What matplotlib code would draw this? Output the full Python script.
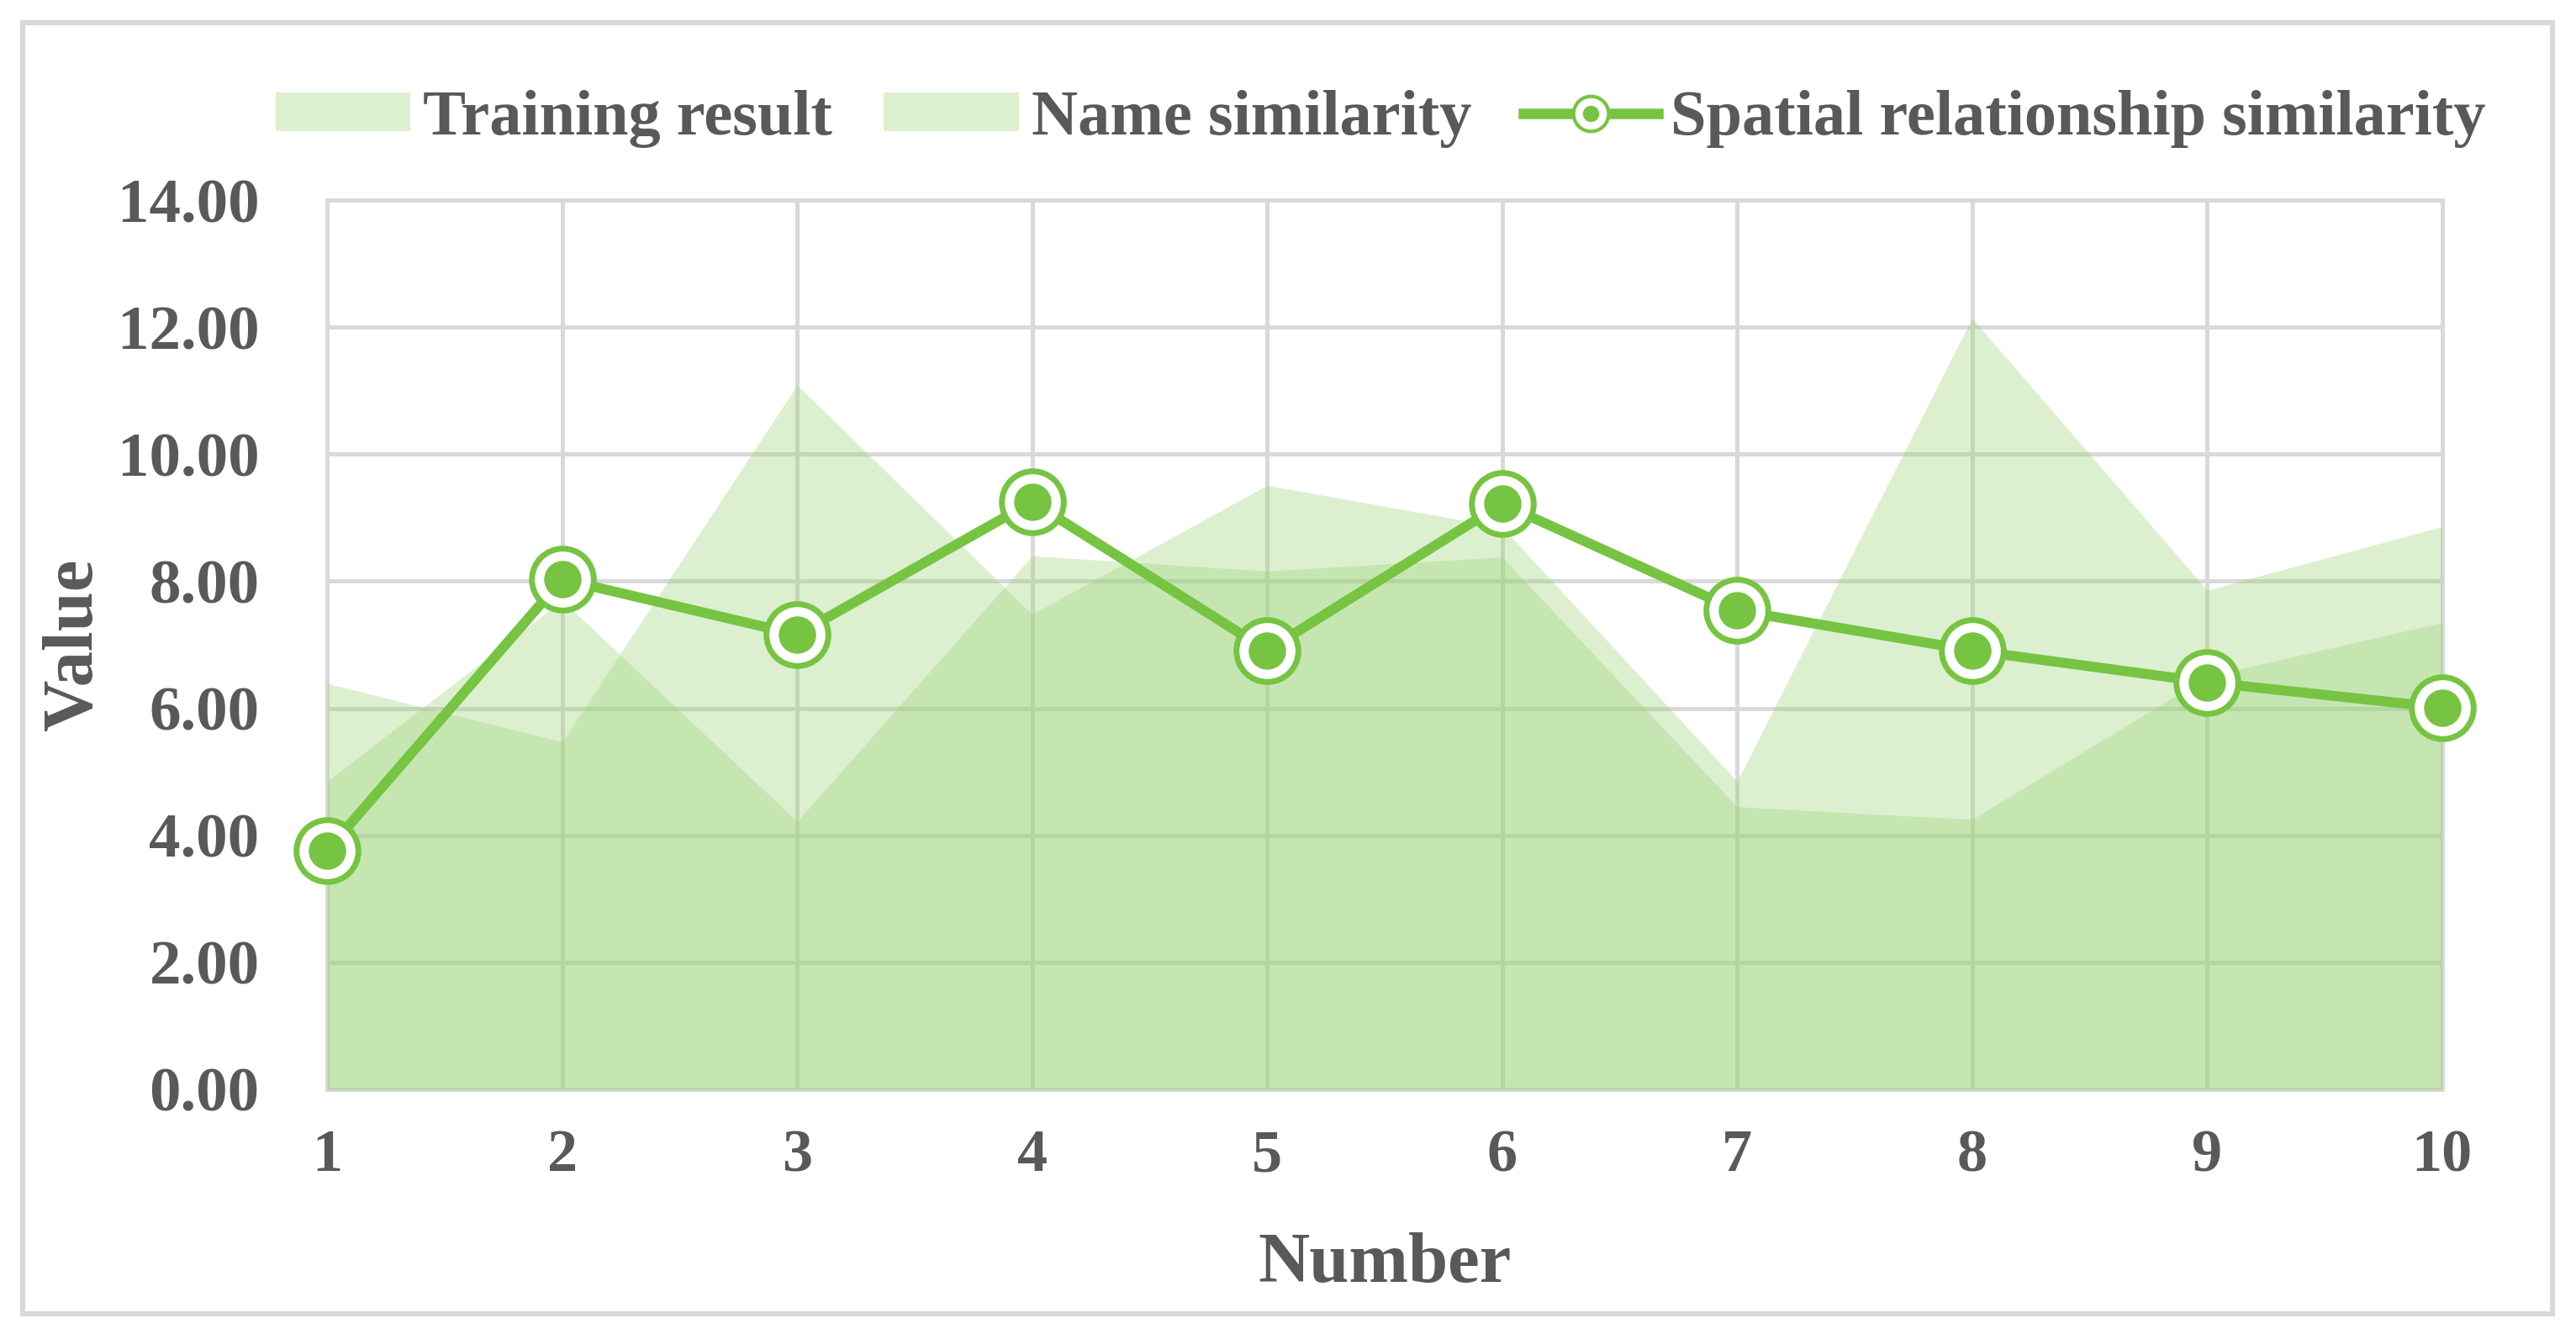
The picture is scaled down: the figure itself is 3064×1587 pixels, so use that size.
import numpy as np
import matplotlib
matplotlib.use("Agg")
import matplotlib.pyplot as plt
from matplotlib.patches import Patch, Rectangle
from matplotlib.lines import Line2D

## Datos
numero = [1, 2, 3, 4, 5, 6, 7, 8, 9, 10]
training = [6.39, 5.47, 11.09, 7.48, 9.51, 8.85, 4.85, 12.14, 7.86, 8.86]
name_sim = [4.85, 7.70, 4.22, 8.40, 8.16, 8.38, 4.45, 4.25, 6.50, 7.35]
spatial = [3.76, 8.03, 7.16, 9.25, 6.91, 9.22, 7.54, 6.91, 6.41, 6.01]
yticks = [0, 2, 4, 6, 8, 10, 12, 14]

verde = '#76C442'
area = '#9BD476'
gris = '#D9D9D9'
texto = '#595959'

plt.rcParams['font.family'] = ['Liberation Serif', 'DejaVu Serif']
plt.rcParams['font.weight'] = 'bold'

fig = plt.figure(figsize=(15.32, 7.935), dpi=200)
ax = fig.add_axes([0.127, 0.1834, 0.821, 0.6666])

##Areas
ax.fill_between(numero, training, 0, color=area, alpha=0.34, linewidth=0, zorder=2)
ax.fill_between(numero, name_sim, 0, color=area, alpha=0.34, linewidth=0, zorder=2)

##Linea con marcadores
ax.plot(numero, spatial, color=verde, linewidth=4.3, zorder=3, solid_capstyle='round')
ax.plot(numero, spatial, linestyle='none', marker='o', markersize=26.5,
        markerfacecolor='white', markeredgecolor=verde, markeredgewidth=2.5,
        zorder=4, clip_on=False)
ax.plot(numero, spatial, linestyle='none', marker='o', markersize=16,
        markerfacecolor=verde, markeredgewidth=0, zorder=5, clip_on=False)

ax.set_xlim(1, 10)
ax.set_ylim(0, 14)
ax.set_xticks(numero)
ax.set_yticks(yticks)
ax.set_yticklabels(['%.2f' % v for v in yticks])
ax.grid(True, color=gris, linewidth=1.8)
ax.set_axisbelow(True)
for s in ax.spines.values():
    s.set_color(gris)
    s.set_linewidth(1.8)
    s.set_zorder(1)
ax.tick_params(length=0, labelsize=26, labelcolor=texto)
ax.tick_params(axis='y', labelsize=27, pad=29)
ax.tick_params(axis='x', pad=17)

fig.text(0.029, 0.5166, 'Value', rotation=90, ha='center', va='center',
         fontsize=30.5, color=texto, fontweight='bold')
fig.text(0.5375, 0.052, 'Number', ha='center', va='center',
         fontsize=30.5, color=texto, fontweight='bold')

##Leyenda
h1 = Patch(facecolor='#DDF0D0', edgecolor='none')
h2 = Patch(facecolor='#DDF0D0', edgecolor='none')
l_line = Line2D([], [], color=verde, linewidth=4.5)
l_out = Line2D([], [], linestyle='none', marker='o', markersize=15,
               markerfacecolor='white', markeredgecolor=verde, markeredgewidth=1.5)
l_in = Line2D([], [], linestyle='none', marker='o', markersize=7,
              markerfacecolor=verde, markeredgewidth=0)
leg = fig.legend([h1, h2, (l_line, l_out, l_in)],
                 ['Training result', 'Name similarity', 'Spatial relationship similarity'],
                 loc='center', bbox_to_anchor=(0.536, 0.911), ncol=3, frameon=False,
                 fontsize=27.5, handlelength=2.1, handleheight=0.55,
                 handletextpad=0.2, columnspacing=0.8)
for t in leg.get_texts():
    t.set_color(texto)

##Borde exterior
fig.patches.append(Rectangle((27 / 3064, 24 / 1587), 3009 / 3064, 1536 / 1587,
                             transform=fig.transFigure, fill=False,
                             edgecolor=gris, linewidth=2.2))

plt.savefig('out.png', dpi=200)
plt.close()
